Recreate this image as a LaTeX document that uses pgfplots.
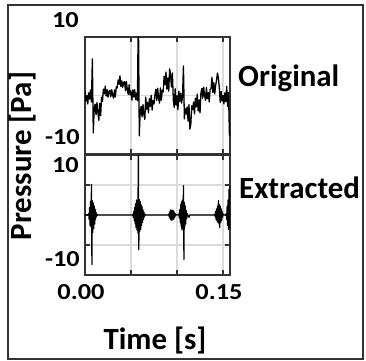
\documentclass[border=0pt]{standalone}
\usepackage{pgfplots}
\pgfplotsset{compat=1.18}
\usepackage{pgfplotstable}
\usepackage{fontspec}
\setmainfont{Carlito}
\definecolor{axc}{HTML}{333333}
\definecolor{grc}{HTML}{DCDCDC}

\pgfplotstableread{
t v
0.000 1.4
0.001 -1.9
0.002 0.0
0.003 -2.9
0.004 0.9
0.005 -1.2
0.006 1.9
0.007 -2.2
0.008 12.5
0.009 -12.8
0.010 -4.8
0.011 -3.0
0.012 -6.6
0.013 -2.4
0.014 -5.7
0.015 -8.5
0.016 -2.7
0.017 -6.9
0.018 -0.6
0.019 -2.0
0.020 2.2
0.021 0.6
0.022 3.2
0.023 -0.2
0.024 2.0
0.025 -0.6
0.026 1.4
0.027 1.7
0.028 -0.4
0.029 2.0
0.030 0.2
0.031 -0.9
0.032 1.9
0.033 -0.5
0.034 3.0
0.035 2.6
0.036 5.3
0.037 3.8
0.038 6.7
0.039 3.1
0.040 5.0
0.041 2.8
0.042 4.5
0.043 4.7
0.044 1.6
0.045 4.8
0.046 2.0
0.047 0.4
0.048 3.7
0.049 0.2
0.050 1.5
0.051 -1.6
0.052 1.9
0.053 -0.5
0.054 2.0
0.055 -1.4
0.056 0.8
0.057 -1.8
0.058 30
0.059 -13.8
0.060 -5.5
0.061 -3.7
0.062 -7.3
0.063 -3.1
0.064 -6.4
0.065 -8.2
0.066 -0.5
0.067 -4.7
0.068 -2.3
0.069 -5.9
0.070 -1.1
0.071 -3.8
0.072 0.1
0.073 -5.0
0.074 -1.7
0.075 -2.9
0.076 0.1
0.077 2.1
0.078 -1.7
0.079 2.5
0.080 -0.8
0.081 -2.6
0.082 2.6
0.083 -1.6
0.084 1.8
0.085 1.2
0.086 6.6
0.087 3.6
0.088 8.0
0.089 2.2
0.090 6.0
0.091 1.5
0.092 9.1
0.093 7.0
0.094 2.9
0.095 7.7
0.096 -1.7
0.097 -4.1
0.098 2.3
0.099 -3.3
0.100 -0.1
0.101 -4.9
0.102 1.5
0.103 -2.1
0.104 0.8
0.105 -2.6
0.106 -0.4
0.107 10.1
0.108 -8.0
0.109 -4.5
0.110 -6.3
0.111 -3.9
0.112 -8.7
0.113 -3.1
0.114 -11.5
0.115 -9.9
0.116 -3.5
0.117 -4.9
0.118 -2.2
0.119 -6.3
0.120 -0.9
0.121 -3.9
0.122 0.5
0.123 -5.3
0.124 -1.5
0.125 -6.0
0.126 0.8
0.127 2.4
0.128 -0.9
0.129 2.9
0.130 0.0
0.131 -1.7
0.132 2.7
0.133 -1.1
0.134 1.0
0.135 -2.2
0.136 2.1
0.137 2.3
0.138 6.2
0.139 1.1
0.140 4.4
0.141 0.5
0.142 3.5
0.143 5.3
0.144 7.7
0.145 5.9
0.146 2.6
0.147 -2.4
0.148 1.4
0.149 -1.9
0.150 0.0
0.151 -2.9
0.152 0.9
0.153 -2.1
0.154 3.1
0.155 -3.7
0.156 1.0
0.157 -13.8
}\original

\pgfplotstableread{
t v
0.0000 0
0.0035 0
0.0040 0.5
0.0045 -1.5
0.0050 2.5
0.0055 -3.5
0.0060 4.5
0.0065 -4.0
0.0070 10.2
0.0075 -16.5
0.0080 4.8
0.0085 -5.8
0.0090 4.0
0.0095 -4.5
0.0100 3.0
0.0105 -3.0
0.0110 2.0
0.0115 -1.5
0.0120 1.0
0.0125 -0.5
0.0130 0.2
0.0140 0
0.0515 0
0.0520 0.3
0.0525 -0.8
0.0530 1.2
0.0535 -1.8
0.0540 2.5
0.0545 -3.0
0.0550 3.8
0.0555 -4.2
0.0560 5.0
0.0565 -5.0
0.0570 4.5
0.0575 -6.0
0.0580 30
0.0585 -11.5
0.0590 5.2
0.0595 -5.5
0.0600 4.5
0.0605 -4.8
0.0610 3.5
0.0615 -3.5
0.0620 2.8
0.0625 -2.5
0.0630 1.8
0.0635 -1.5
0.0640 1.0
0.0645 -0.6
0.0650 0.3
0.0660 0
0.0905 0
0.0910 0.3
0.0915 -0.6
0.0920 1.0
0.0925 -1.3
0.0930 1.7
0.0935 -1.7
0.0940 1.5
0.0945 -1.8
0.0950 1.6
0.0955 -1.2
0.0960 1.4
0.0965 -1.5
0.0970 1.0
0.0975 -0.8
0.0980 0.5
0.0985 -0.3
0.0990 0.1
0.1015 0
0.1020 0.4
0.1025 -1.0
0.1030 1.8
0.1035 -2.5
0.1040 3.5
0.1045 -4.0
0.1050 4.5
0.1055 -5.0
0.1060 5.0
0.1065 -4.5
0.1070 9.8
0.1075 -14.8
0.1080 4.2
0.1085 -4.0
0.1090 3.0
0.1095 -3.0
0.1100 1.5
0.1105 -1.2
0.1110 0.5
0.1120 -0.3
0.1130 -0.8
0.1140 0
0.1405 0
0.1410 0.3
0.1415 -0.6
0.1420 1.2
0.1425 -1.5
0.1430 2.0
0.1435 -2.0
0.1440 2.8
0.1445 -2.5
0.1450 4.8
0.1455 -3.0
0.1460 3.5
0.1465 -4.2
0.1470 3.0
0.1475 -2.5
0.1480 2.0
0.1485 -1.8
0.1490 1.2
0.1495 -0.8
0.1500 0.4
0.1510 0
0.1530 0
0.1535 0.5
0.1540 -1.5
0.1545 3.0
0.1550 -3.5
0.1555 5.0
0.1560 -4.8
0.1565 8.5
0.1570 -4.0
0.1575 9.5
0.1580 -4.8
}\extracted

\pgfplotsset{
  panel/.style={
    scale only axis, anchor=south west, width=145bp,
    xmin=0, xmax=0.1576, ymin=-20, ymax=20,
    xtick={0.05,0.10,0.15}, xticklabels={},
    yticklabels={},
    grid=major,
    major grid style={line width=1.6bp, color=grc},
    axis line style={line width=1.6bp, color=axc},
    tick style={line width=1.2bp, color=axc},
    major tick length=5bp,
    tick align=inside,
  },
}

\begin{document}
\begin{tikzpicture}
\useasboundingbox (0,0) rectangle (366bp,361bp);
\draw[line width=2bp, color=axc] (8.3bp,1.7bp) rectangle (363.3bp,356bp);

\begin{axis}[panel, at={(85bp,207bp)}, height=117bp,
  ytick={0}, ytick style={draw=none}]
  \addplot[black, line width=1.3bp, line join=round] table[x=t, y=v] {\original};
\end{axis}

\begin{axis}[panel, at={(85bp,86bp)}, height=120bp,
  ytick={-10,0,10}]
  \addplot[black, line width=1.2bp, line join=round] table[x=t, y=v] {\extracted};
\end{axis}

\begin{scope}[every node/.style={inner sep=0pt, font=\bfseries}]
\node[anchor=base east, font=\fontsize{23}{25}\selectfont\bfseries] at (79bp,333bp) {\scalebox{1.15}[1]{10}};
\node[anchor=base east, font=\fontsize{23}{25}\selectfont\bfseries] at (80bp,216bp) {\scalebox{1.15}[1]{-10}};
\node[anchor=base east, font=\fontsize{23}{25}\selectfont\bfseries] at (79bp,188bp) {\scalebox{1.15}[1]{10}};
\node[anchor=base east, font=\fontsize{23}{25}\selectfont\bfseries] at (80bp,94bp) {\scalebox{1.15}[1]{-10}};
\node[anchor=base, font=\fontsize{23}{25}\selectfont\bfseries] at (81bp,61bp) {\scalebox{1.15}[1]{0.00}};
\node[anchor=base, font=\fontsize{23}{25}\selectfont\bfseries] at (219bp,61bp) {\scalebox{1.15}[1]{0.15}};
\node[anchor=base, font=\fontsize{31}{33}\selectfont\bfseries] at (155bp,12bp) {Time [s]};
\node[anchor=base west, font=\fontsize{31}{33}\selectfont\bfseries] at (238bp,274bp) {Original};
\node[anchor=base west, font=\fontsize{31}{33}\selectfont\bfseries] at (239bp,162bp) {Extracted};
\node[rotate=90, font=\fontsize{31}{33}\selectfont\bfseries] at (23bp,205bp) {Pressure [Pa]};
\end{scope}
\end{tikzpicture}
\end{document}
